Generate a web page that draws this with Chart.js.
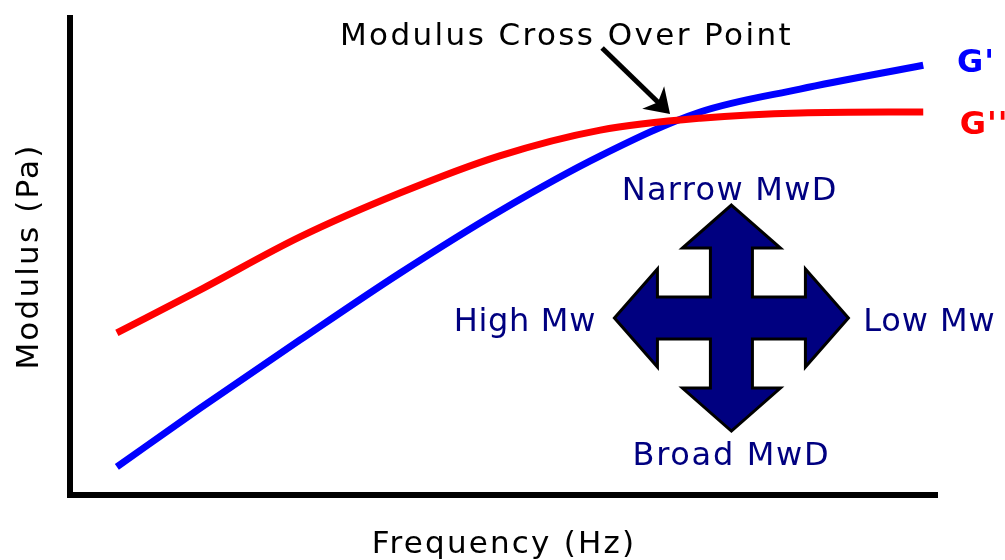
<!DOCTYPE html>
<html>
<head>
<meta charset="utf-8">
<script src="https://cdn.jsdelivr.net/npm/chart.js@4"></script>
<style>
  html, body { margin: 0; padding: 0; background: #fff; }
  canvas { display: block; }
</style>
</head>
<body>
<canvas id="chart" width="1005" height="560"></canvas>
<script>
// valori (unita' arbitrarie 0-100 su entrambi gli assi)
const frequency = [5.4, 15.0, 26.5, 38.0, 49.5, 61.1, 72.6, 84.1, 98.3];
const lossModulus = [34.0, 43.0, 54.1, 63.3, 71.1, 76.5, 79.0, 80.1, 80.3];     // G''
const storageModulus = [5.9, 18.2, 32.5, 46.5, 59.5, 71.1, 80.3, 85.1, 90.1];   // G'

const seriesNames = ["G''", "G'"];
const axisTitles = ['Frequency (Hz)', 'Modulus (Pa)'];
const crossLabels = ['Narrow MwD', 'Broad MwD', 'High Mw', 'Low Mw'];
const crossOverLabel = 'Modulus Cross Over Point';

const NAVY = '#000080';
const FONT = '"DejaVu Sans", sans-serif';

function toPoints(xs, ys) {
    return xs.map((x, i) => ({ x: x, y: ys[i] }));
}

// Disegno delle annotazioni (testi, freccia, croce) in coordinate dati
const annotations = {
    id: 'annotations',
    beforeDraw(chart) {
        chart.ctx.letterSpacing = '2.2px';
    },
    afterDraw(chart) {
        const ctx = chart.ctx;
        const xs = chart.scales.x, ys = chart.scales.y;
        const px = v => xs.getPixelForValue(v);
        const py = v => ys.getPixelForValue(v);

        function text(str, x, y, color, font, spacing, align) {
            ctx.save();
            ctx.font = font;
            ctx.fillStyle = color;
            ctx.letterSpacing = spacing + 'px';
            ctx.textAlign = align || 'center';
            ctx.textBaseline = 'alphabetic';
            ctx.fillText(str, px(x), py(y));
            ctx.restore();
        }

        // etichetta del punto di incrocio e freccia
        text(crossOverLabel, 57.2, 94.3, '#000', '31px ' + FONT, 2.4);
        const x1 = px(61.3), y1 = py(93.7), x2 = px(68.9), y2 = py(80.3);
        const ang = Math.atan2(y2 - y1, x2 - x1);
        ctx.save();
        ctx.strokeStyle = '#000';
        ctx.lineWidth = 5;
        ctx.beginPath();
        ctx.moveTo(x1, y1);
        ctx.lineTo(x2 - 6 * Math.cos(ang), y2 - 6 * Math.sin(ang));
        ctx.stroke();
        ctx.fillStyle = '#000';
        ctx.beginPath();
        ctx.moveTo(x2 + 2, y2 + 2);
        ctx.lineTo(x2 - 26 * Math.cos(ang - 0.65), y2 - 26 * Math.sin(ang - 0.65));
        ctx.lineTo(x2 - 14 * Math.cos(ang), y2 - 14 * Math.sin(ang));
        ctx.lineTo(x2 - 26 * Math.cos(ang + 0.65), y2 - 26 * Math.sin(ang + 0.65));
        ctx.closePath();
        ctx.fill();
        ctx.restore();

        // nomi delle serie a destra
        text(seriesNames[1], 102.2, 88.7, '#0000ff', 'bold 32px ' + FONT, 1, 'left');
        text(seriesNames[0], 102.5, 75.7, '#ff0000', 'bold 32px ' + FONT, 1, 'left');

        // croce a quattro frecce
        const cx = px(76.2), cy = py(37.1);
        const pts = [[0,-113],[49,-70],[21,-70],[21,-21],[74,-21],[74,-49],[117,0],[74,49],[74,21],
                     [21,21],[21,70],[49,70],[0,113],[-49,70],[-21,70],[-21,21],[-74,21],[-74,49],
                     [-117,0],[-74,-49],[-74,-21],[-21,-21],[-21,-70],[-49,-70]];
        ctx.save();
        ctx.beginPath();
        pts.forEach((p, i) => i ? ctx.lineTo(cx + p[0], cy + p[1]) : ctx.moveTo(cx + p[0], cy + p[1]));
        ctx.closePath();
        ctx.fillStyle = NAVY;
        ctx.fill();
        ctx.strokeStyle = '#000';
        ctx.lineWidth = 3;
        ctx.lineJoin = 'miter';
        ctx.stroke();
        ctx.restore();

        text(crossLabels[0], 76.0, 61.8, NAVY, '32px ' + FONT, 1.3);
        text(crossLabels[1], 76.2, 6.3, NAVY, '32px ' + FONT, 1.7);
        text(crossLabels[2], 52.4, 34.4, NAVY, '32px ' + FONT, 0.7);
        text(crossLabels[3], 99.0, 34.4, NAVY, '32px ' + FONT, 0.9);
    }
};

new Chart(document.getElementById('chart'), {
    type: 'line',
    data: {
        datasets: [
            {
                label: seriesNames[0],
                data: toPoints(frequency, lossModulus),
                borderColor: '#ff0000',
                borderWidth: 7,
                pointRadius: 0,
                cubicInterpolationMode: 'monotone',
                fill: false
            },
            {
                label: seriesNames[1],
                data: toPoints(frequency, storageModulus),
                borderColor: '#0000ff',
                borderWidth: 7,
                pointRadius: 0,
                cubicInterpolationMode: 'monotone',
                fill: false
            }
        ]
    },
    options: {
        responsive: false,
        animation: false,
        devicePixelRatio: 1,
        layout: { padding: { left: 14.5, top: 18, right: 67, bottom: 0 } },
        plugins: {
            legend: { display: false },
            tooltip: { enabled: false }
        },
        scales: {
            x: {
                type: 'linear',
                min: 0,
                max: 100,
                grid: { display: false, drawTicks: false, lineWidth: 0 },
                border: { display: true, color: '#000', width: 6 },
                ticks: { display: false },
                title: {
                    display: true,
                    text: axisTitles[0],
                    color: '#000',
                    font: { family: FONT, size: 31, lineHeight: 1.0 },
                    padding: { top: 34, bottom: 0 }
                }
            },
            y: {
                type: 'linear',
                min: 0,
                max: 100,
                grid: { display: false, drawTicks: false, lineWidth: 0 },
                border: { display: true, color: '#000', width: 6 },
                ticks: { display: false },
                title: {
                    display: true,
                    text: axisTitles[1],
                    color: '#000',
                    font: { family: FONT, size: 31, lineHeight: 1.0 },
                    padding: { top: 0, bottom: 24.5 }
                }
            }
        }
    },
    plugins: [annotations]
});
</script>
</body>
</html>
